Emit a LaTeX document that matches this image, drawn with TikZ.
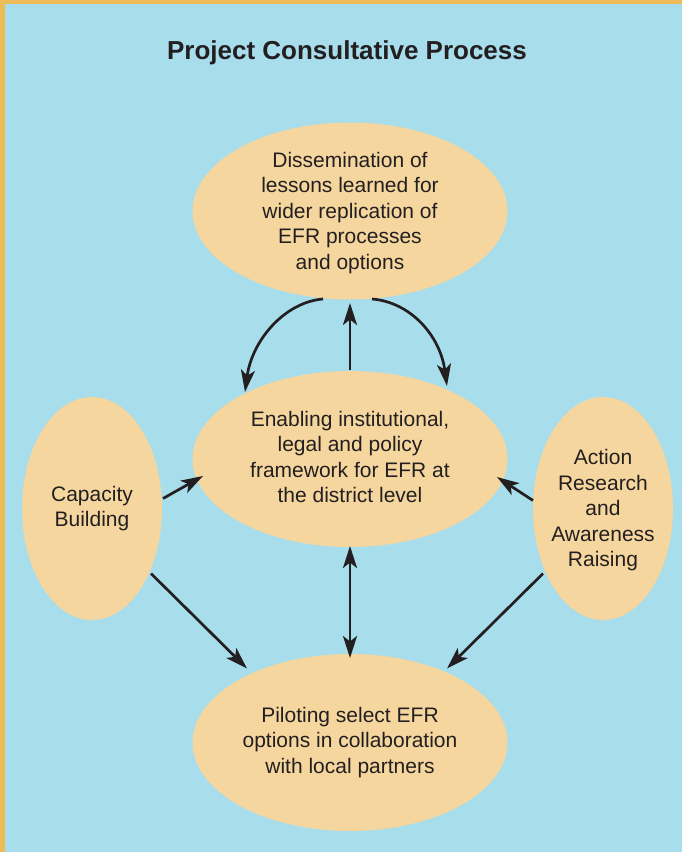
\documentclass[tikz,border=0pt]{standalone}
\usepackage{fontspec}
\setmainfont{Liberation Sans}
\usetikzlibrary{shapes.geometric,arrows.meta,calc}

\definecolor{sky}{HTML}{A8DDEC}
\definecolor{framegold}{HTML}{EDBC57}
\definecolor{bubblefill}{HTML}{F5D69E}
\definecolor{ink}{HTML}{231F20}

\begin{document}
\begin{tikzpicture}[x=1pt,y=-1pt,
  bubble/.style={ellipse, fill=bubblefill, draw=none, inner sep=0pt},
  bigbubble/.style={bubble, minimum width=315pt, minimum height=177pt},
  sidebubble/.style={bubble, minimum width=140pt, minimum height=223pt},
  captext/.style={text=ink, align=center, inner sep=0pt,
    font=\fontsize{21}{25.5}\selectfont},
  tip/.tip={Stealth[length=22pt,width=14pt,inset=5.5pt]},
  conn/.style={draw=ink, line width=2.7pt, -tip},
  twoway/.style={draw=ink, line width=2.7pt, tip-tip},
]
\useasboundingbox (0,0) rectangle (682,852);

% page background with the gold edge
\fill[framegold] (0,0) rectangle (682,852);
\fill[sky] (5,4) rectangle (682,852);

% title
\node[text=ink, anchor=base, inner sep=0pt,
  font=\fontsize{26}{30}\selectfont\bfseries] (title) at (347,59)
  {Project Consultative Process};

% bubbles
\node[bigbubble] (top) at (350,211) {};
\node[bigbubble, minimum height=176pt] (mid) at (350,459) {};
\node[bigbubble] (bot) at (350,742.5) {};
\node[sidebubble] (cap) at (92,508.5) {};
\node[sidebubble] (act) at (603,508.5) {};

% bubble texts
\node[captext] (topT) at ($(top.center)+(0,2)$) {Dissemination of\\lessons learned for\\wider replication of\\EFR processes\\and options};
\node[captext] (midT) at ($(mid.center)+(0,-2)$) {Enabling institutional,\\legal and policy\\framework for EFR at\\the district level};
\node[captext] (botT) at (bot.center) {Piloting select EFR\\options in collaboration\\with local partners};
\node[captext] (capT) at (cap.center) {Capacity\\Building};
\node[captext] (actT) at ($(act.center)+(0,2)$) {Action\\Research\\and\\Awareness\\Raising};

% connectors
\draw[conn] ($(mid.center)+(0,-89)$) -- ($(top.center)+(0,92)$);
\draw[conn] ($(top.center)+(-27,88)$)
  .. controls ($(top.center)+(-65,91)$) and ($(mid.center)+(-98,-119)$)
  .. ($(mid.center)+(-105,-67)$);
\draw[conn] ($(top.center)+(22,88)$)
  .. controls ($(top.center)+(60,91)$) and ($(mid.center)+(90,-124)$)
  .. ($(mid.center)+(97,-73)$);
\draw[conn] ($(cap.center)+(71,-10)$) -- ($(mid.center)+(-147,17)$);
\draw[conn] ($(act.center)+(-70,-8)$) -- ($(mid.center)+(147,18)$);
\draw[conn] ($(cap.center)+(59,65)$) -- ($(bot.center)+(-103,-74)$);
\draw[conn] ($(act.center)+(-60,65)$) -- ($(bot.center)+(97,-74)$);
\draw[twoway] ($(mid.center)+(0,87)$) -- ($(bot.center)+(0,-84.5)$);
\end{tikzpicture}
\end{document}
